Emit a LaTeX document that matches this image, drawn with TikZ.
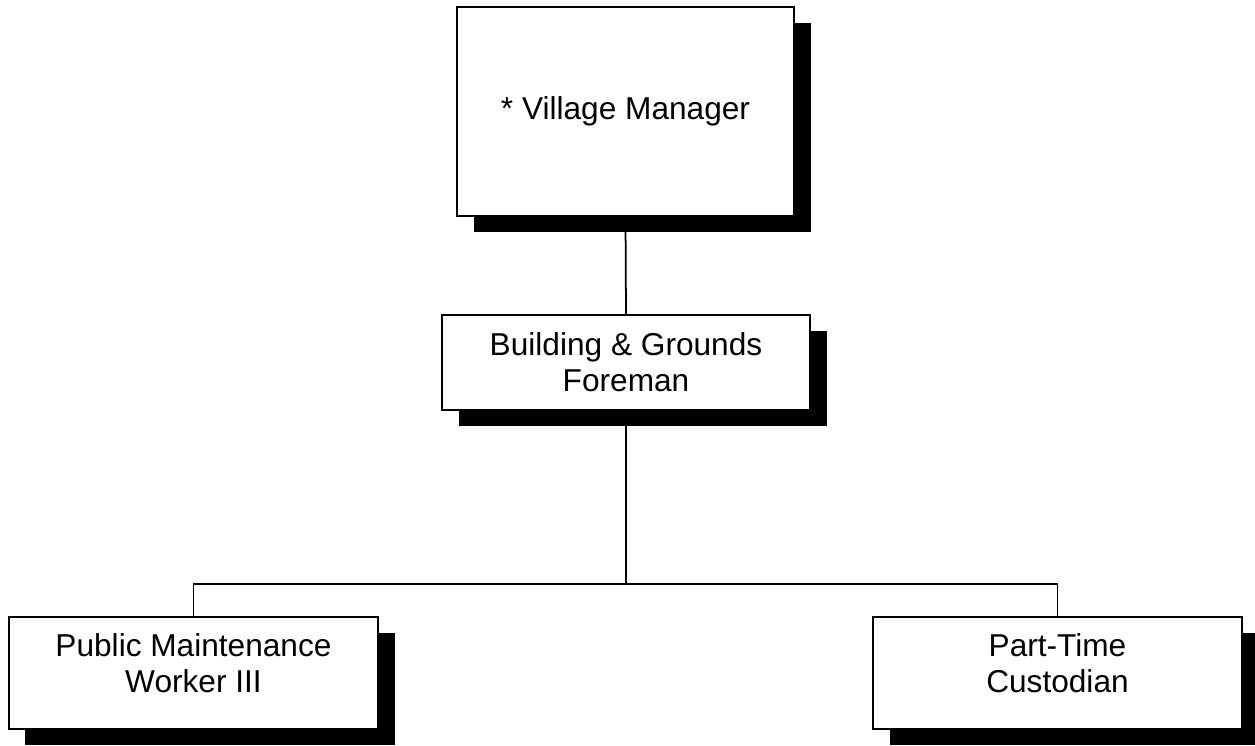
\documentclass[tikz,border=0pt]{standalone}
\usepackage{fontspec}
\setmainfont{Liberation Sans}
\usetikzlibrary{shadows}

\tikzset{
    post/.style={draw, line width=1pt, fill=white, align=center,
        font=\fontsize{18}{20.5}\selectfont,
        drop shadow={shadow xshift=0.33cm, shadow yshift=-0.33cm, fill=black, opacity=1}},
}

\begin{document}
\begin{tikzpicture}[line width=1pt]
    \useasboundingbox (0,0) rectangle (25.1,14.92);

    % org chart boxes
    \node[post, minimum width=6.74cm, minimum height=4.18cm] (manager) at (12.51,12.69) {* Village Manager};
    \node[post, minimum width=7.36cm, minimum height=1.9cm] (foreman) at (12.52,7.67) {Building \& Grounds\\Foreman};
    \node[post, minimum width=7.38cm, minimum height=2.24cm, text depth=0.4cm] (worker) at (3.87,1.46) {Public Maintenance\\Worker III};
    \node[post, minimum width=7.38cm, minimum height=2.24cm, text depth=0.4cm] (custodian) at (21.15,1.46) {Part-Time\\Custodian};

    % reporting lines
    \coordinate (split) at (foreman.south |- 0,3.24);
    \draw (manager.south) -- (foreman.north);
    \draw (foreman.south) -- (split);
    \draw (worker.north) |- (split) -| (custodian.north);
\end{tikzpicture}
\end{document}
